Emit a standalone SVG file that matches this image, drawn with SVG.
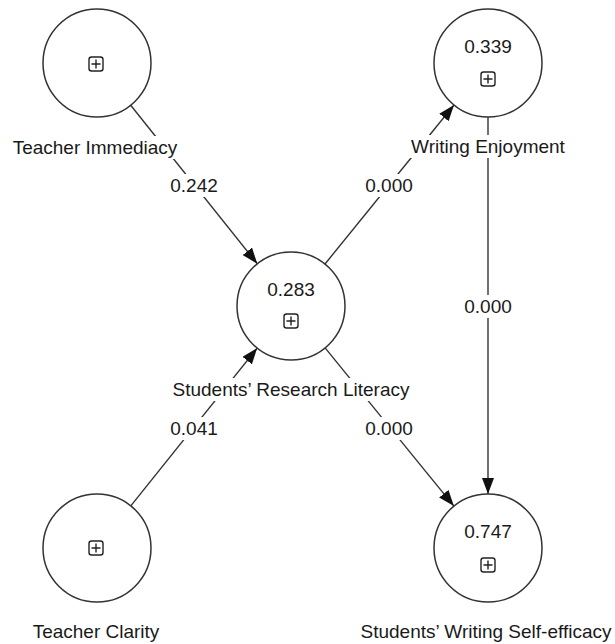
<svg xmlns="http://www.w3.org/2000/svg" width="615" height="644" viewBox="0 0 615 644">
<style>
text{font-family:"Liberation Sans",Arial,sans-serif;font-size:19px;fill:#1a1a1a;text-anchor:middle}
.c{fill:#fff;stroke:#333;stroke-width:1.5}
.e{stroke:#333;stroke-width:1.4;fill:none}
.bg{fill:#fff}
.box{fill:#fff;stroke:#222;stroke-width:1.4}
.pl{stroke:#222;stroke-width:1.4}
</style>
<defs>
<marker id="arr" markerUnits="userSpaceOnUse" markerWidth="16" markerHeight="12" refX="16" refY="6" orient="auto">
<path d="M0,0 L16,6 L0,12 z" fill="#111"/>
</marker>
</defs>
<g id="connectors">
<line class="e" x1="130.7" y1="105.2" x2="257.3" y2="263.8" marker-end="url(#arr)"/>
<line class="e" x1="325" y1="264" x2="454" y2="105" marker-end="url(#arr)"/>
<line class="e" x1="325.1" y1="347.9" x2="453.9" y2="506.1" marker-end="url(#arr)"/>
<line class="e" x1="130.8" y1="505.9" x2="257.2" y2="348.1" marker-end="url(#arr)"/>
<line class="e" x1="488" y1="117" x2="488" y2="494" marker-end="url(#arr)"/>
<rect class="bg" x="167" y="174" width="54" height="23"/>
<text x="194" y="192">0.242</text>
<rect class="bg" x="362" y="174" width="54" height="23"/>
<text x="389" y="192">0.000</text>
<rect class="bg" x="461" y="295" width="54" height="23"/>
<text x="488" y="313">0.000</text>
<rect class="bg" x="362" y="417" width="54" height="23"/>
<text x="389" y="434.5">0.000</text>
<rect class="bg" x="167" y="417" width="54" height="23"/>
<text x="194" y="434.5">0.041</text>
</g>
<g id="teacher-immediacy">
<circle class="c" cx="97" cy="63" r="54"/>
<rect class="box" x="89" y="57" width="14" height="14" rx="2.5"/>
<path class="pl" d="M96,59.5 V68.5 M91.5,64 H100.5"/>
<rect class="bg" x="9" y="136" width="174" height="23"/>
<text x="95" y="154">Teacher Immediacy</text>
</g>
<g id="writing-enjoyment">
<circle class="c" cx="488" cy="63" r="54"/>
<text x="488" y="53">0.339</text>
<rect class="box" x="481" y="72" width="14" height="14" rx="2.5"/>
<path class="pl" d="M488,74.5 V83.5 M483.5,79 H492.5"/>
<rect class="bg" x="407" y="135" width="162" height="23"/>
<text x="488" y="153">Writing Enjoyment</text>
</g>
<g id="research-literacy">
<circle class="c" cx="291" cy="306" r="54"/>
<text x="291" y="296">0.283</text>
<rect class="box" x="284" y="314" width="14" height="14" rx="2.5"/>
<path class="pl" d="M291,316.5 V325.5 M286.5,321 H295.5"/>
<rect class="bg" x="168" y="378" width="246" height="23"/>
<text x="291" y="396">Students’ Research Literacy</text>
</g>
<g id="teacher-clarity">
<circle class="c" cx="97" cy="548" r="54"/>
<rect class="box" x="89" y="541" width="14" height="14" rx="2.5"/>
<path class="pl" d="M96,543.5 V552.5 M91.5,548 H100.5"/>
<text x="96" y="638">Teacher Clarity</text>
</g>
<g id="writing-self-efficacy">
<circle class="c" cx="488" cy="548" r="54"/>
<text x="488" y="538">0.747</text>
<rect class="box" x="481" y="558" width="14" height="14" rx="2.5"/>
<path class="pl" d="M488,560.5 V569.5 M483.5,565 H492.5"/>
<text x="486" y="638">Students’ Writing Self-efficacy</text>
</g>
</svg>
